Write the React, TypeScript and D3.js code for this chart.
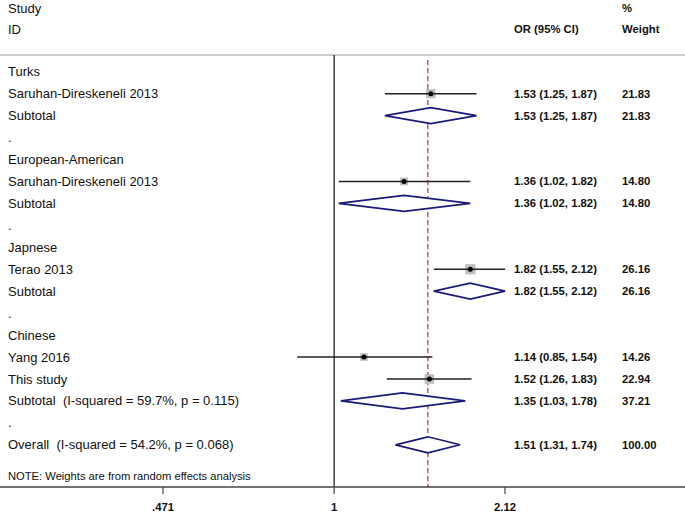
import { useEffect, useRef } from 'react'
import * as d3 from 'd3'

// rows of the forest plot, top to bottom
const rowLabels = [
  'Turks', 'Saruhan-Direskeneli 2013', 'Subtotal', '.',
  'European-American', 'Saruhan-Direskeneli 2013', 'Subtotal', '.',
  'Japnese', 'Terao 2013', 'Subtotal', '.',
  'Chinese', 'Yang 2016', 'This study', 'Subtotal  (I-squared = 59.7%, p = 0.115)', '.',
  'Overall  (I-squared = 54.2%, p = 0.068)'
]
const rowKinds = [
  'group', 'study', 'sub', 'gap',
  'group', 'study', 'sub', 'gap',
  'group', 'study', 'sub', 'gap',
  'group', 'study', 'study', 'sub', 'gap',
  'sub'
]
const orValues = [null, 1.53, 1.53, null, null, 1.36, 1.36, null, null, 1.82, 1.82, null, null, 1.14, 1.52, 1.35, null, 1.51]
const lowerCI = [null, 1.25, 1.25, null, null, 1.02, 1.02, null, null, 1.55, 1.55, null, null, 0.85, 1.26, 1.03, null, 1.31]
const upperCI = [null, 1.87, 1.87, null, null, 1.82, 1.82, null, null, 2.12, 2.12, null, null, 1.54, 1.83, 1.78, null, 1.74]
const weights = [null, 21.83, 21.83, null, null, 14.80, 14.80, null, null, 26.16, 26.16, null, null, 14.26, 22.94, 37.21, null, 100.0]

const xTicks = [0.471, 1, 2.12]
const xTickLabels = ['.471', '1', '2.12']
const overallOR = 1.51

const W = 685
const H = 512
const FONT = '"Liberation Sans", Arial, sans-serif'

export default function App() {
  const svgRef = useRef<SVGSVGElement>(null)

  useEffect(() => {
    if (!svgRef.current) return
    const svg = d3.select(svgRef.current)
    svg.selectAll('*').remove()

    const x = d3.scaleLog().domain([0.471, 2.12]).range([163, 505])
    const y = d3.scaleLinear().domain([0, rowLabels.length - 1]).range([71.7, 444.8])
    const axisY = 487
    const topY = 55

    svg.append('rect').attr('width', W).attr('height', H).attr('fill', 'white')

    // headers
    const header = svg.append('g').attr('font-family', FONT).attr('fill', '#111')
    header.append('text').attr('x', 8).attr('y', 8).attr('dy', '0.35em').attr('font-size', 13).text('Study')
    header.append('text').attr('x', 8).attr('y', 29).attr('dy', '0.35em').attr('font-size', 13).text('ID')
    header.append('text').attr('x', 514).attr('y', 29).attr('dy', '0.35em').attr('font-size', 11.3).attr('font-weight', 'bold').text('OR (95% CI)')
    header.append('text').attr('x', 622).attr('y', 8).attr('dy', '0.35em').attr('font-size', 11.3).attr('font-weight', 'bold').text('%')
    header.append('text').attr('x', 622).attr('y', 29).attr('dy', '0.35em').attr('font-size', 11.3).attr('font-weight', 'bold').text('Weight')

    svg.append('line').attr('x1', 0).attr('x2', W).attr('y1', topY).attr('y2', topY)
      .attr('stroke', '#bbb').attr('stroke-width', 1.5)

    // null line and overall line
    svg.append('line').attr('x1', x(1)).attr('x2', x(1)).attr('y1', topY).attr('y2', axisY)
      .attr('stroke', '#222').attr('stroke-width', 1.3)
    svg.append('line').attr('x1', x(overallOR)).attr('x2', x(overallOR)).attr('y1', 60).attr('y2', axisY)
      .attr('stroke', '#a0303a').attr('stroke-width', 1.2).attr('stroke-dasharray', '5,3')

    const rows = rowLabels.map((label, i) => ({
      label, kind: rowKinds[i], or: orValues[i], lo: lowerCI[i], hi: upperCI[i], w: weights[i], i
    }))

    // labels on the left
    svg.append('g').selectAll('text').data(rows).enter().append('text')
      .attr('x', 8).attr('y', d => y(d.i)).attr('dy', '0.35em')
      .attr('font-family', FONT).attr('font-size', 13).attr('fill', '#111')
      .style('white-space', 'pre')
      .text(d => d.label)

    const valued = rows.filter(d => d.or != null)

    // OR and weight columns
    svg.append('g').selectAll('text').data(valued).enter().append('text')
      .attr('x', 514).attr('y', d => y(d.i)).attr('dy', '0.35em')
      .attr('font-family', FONT).attr('font-size', 11.3).attr('font-weight', 'bold').attr('fill', '#111')
      .text(d => `${d.or!.toFixed(2)} (${d.lo!.toFixed(2)}, ${d.hi!.toFixed(2)})`)
    svg.append('g').selectAll('text').data(valued).enter().append('text')
      .attr('x', 622).attr('y', d => y(d.i)).attr('dy', '0.35em')
      .attr('font-family', FONT).attr('font-size', 11.3).attr('font-weight', 'bold').attr('fill', '#111')
      .text(d => d.w!.toFixed(2))

    // studies
    const studies = valued.filter(d => d.kind === 'study')
    const sg = svg.append('g')
    sg.selectAll('rect').data(studies).enter().append('rect')
      .attr('x', d => x(d.or!) - Math.sqrt(d.w!) * 1.0)
      .attr('y', d => y(d.i) - Math.sqrt(d.w!) * 1.0)
      .attr('width', d => Math.sqrt(d.w!) * 2.0)
      .attr('height', d => Math.sqrt(d.w!) * 2.0)
      .attr('fill', '#bdbdbd')
    sg.selectAll('line').data(studies).enter().append('line')
      .attr('x1', d => x(d.lo!)).attr('x2', d => x(d.hi!))
      .attr('y1', d => y(d.i)).attr('y2', d => y(d.i))
      .attr('stroke', '#222').attr('stroke-width', 1.5)
    sg.selectAll('circle').data(studies).enter().append('circle')
      .attr('cx', d => x(d.or!)).attr('cy', d => y(d.i)).attr('r', 2.5)
      .attr('fill', '#000')

    // pooled diamonds
    const pooled = valued.filter(d => d.kind === 'sub')
    svg.append('g').selectAll('path').data(pooled).enter().append('path')
      .attr('d', d => {
        const cy = y(d.i)
        return `M${x(d.lo!)},${cy}L${x(d.or!)},${cy - 8}L${x(d.hi!)},${cy}L${x(d.or!)},${cy + 8}Z`
      })
      .attr('fill', 'white').attr('stroke', '#1a1a7a').attr('stroke-width', 1.7)

    // note
    svg.append('text').attr('x', 8).attr('y', 476).attr('dy', '0.35em')
      .attr('font-family', FONT).attr('font-size', 11.2).attr('fill', '#111')
      .text('NOTE: Weights are from random effects analysis')

    // x axis
    svg.append('line').attr('x1', 0).attr('x2', W).attr('y1', axisY).attr('y2', axisY)
      .attr('stroke', '#444').attr('stroke-width', 1.3)
    const ax = svg.append('g')
    ax.selectAll('line').data(xTicks).enter().append('line')
      .attr('x1', d => x(d)).attr('x2', d => x(d)).attr('y1', axisY).attr('y2', axisY + 7)
      .attr('stroke', '#444').attr('stroke-width', 1.2)
    ax.selectAll('text').data(xTicks).enter().append('text')
      .attr('x', d => x(d)).attr('y', 507).attr('dy', '0.35em').attr('text-anchor', 'middle')
      .attr('font-family', FONT).attr('font-size', 11.3).attr('font-weight', 'bold').attr('fill', '#111')
      .text((d, i) => xTickLabels[i])
  }, [])

  return (
    <svg ref={svgRef} width={W} height={H}
      style={{ position: 'absolute', left: 0, top: 0, display: 'block' }} />
  )
}
